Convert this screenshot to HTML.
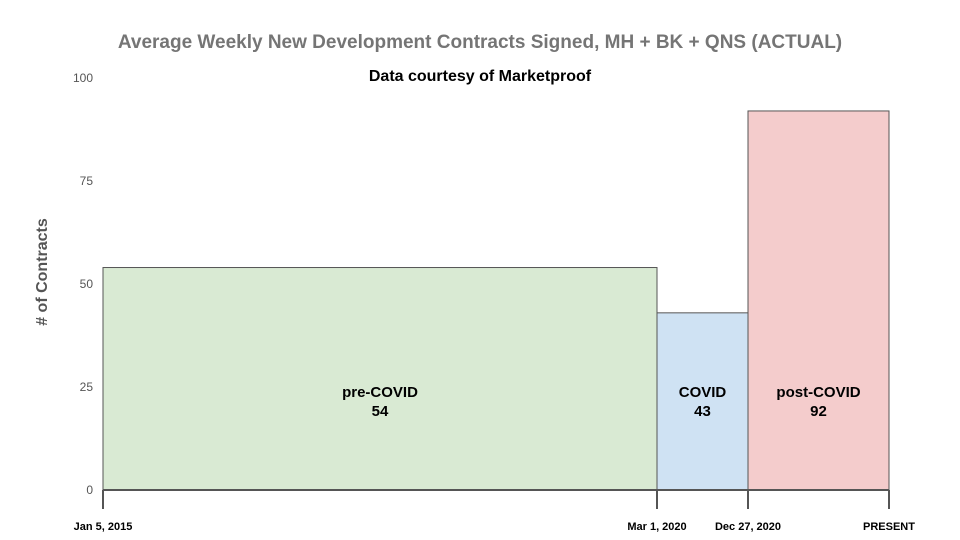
<!DOCTYPE html>
<html><head><meta charset="utf-8"><style>
body{margin:0;background:#fff;}
svg{display:block;font-family:"Liberation Sans",Arial,sans-serif;}
</style></head><body>
<svg id="chart" width="960" height="540" viewBox="0 0 960 540">
<text x="480" y="48" text-anchor="middle" font-size="19" font-weight="bold" fill="#757575">Average Weekly New Development Contracts Signed, MH + BK + QNS (ACTUAL)</text>
<text x="480" y="81" text-anchor="middle" font-size="16" font-weight="bold" fill="#000">Data courtesy of Marketproof</text>
<text transform="translate(47,272) rotate(-90)" text-anchor="middle" font-size="16" font-weight="bold" fill="#555"># of Contracts</text>
<g id="yticks"></g>
<g id="bars"></g>
<g id="xaxis"></g>
</svg>
<script>
const categories=["pre-COVID","COVID","post-COVID"];
const values=[54,43,92];
const yTicks=[0,25,50,75,100];
const xTickLabels=["Jan 5, 2015","Mar 1, 2020","Dec 27, 2020","PRESENT"];
const xBoundaries=[0,1,2,3]; // index of period boundaries
const colors=["#d9ead3","#cfe2f3","#f4cccc"];
const NS="http://www.w3.org/2000/svg";
const y0=490, pxPerUnit=4.12;
function yScale(v){return y0-v*pxPerUnit;}
const bx=[103,657,748,889];
function xScale(i){return bx[i];}
function mk(tag,attrs,parent){const e=document.createElementNS(NS,tag);for(const k in attrs)e.setAttribute(k,attrs[k]);parent.appendChild(e);return e;}
const yg=document.getElementById('yticks');
yTicks.forEach(t=>{
  const el=mk('text',{x:93,y:yScale(t)+4,'text-anchor':'end','font-size':12,fill:'#555'},yg);
  
  
  el.textContent=t;
});
const bg=document.getElementById('bars');
categories.forEach((c,i)=>{
  const x1=xScale(i),x2=xScale(i+1),yt=yScale(values[i]);
  const r=mk('rect',{x:x1,y:yt,width:x2-x1,height:y0-yt,fill:colors[i],stroke:'#555','stroke-width':1},bg);
  
  
  const cx=(x1+x2)/2;
  const l1=mk('text',{x:cx,y:397,'text-anchor':'middle','font-size':15,'font-weight':'bold',fill:'#000'},bg);
  
  
  l1.textContent=c;
  const l2=mk('text',{x:cx,y:416,'text-anchor':'middle','font-size':15,'font-weight':'bold',fill:'#000'},bg);
  
  
  l2.textContent=values[i];
});
const xg=document.getElementById('xaxis');
const ax=mk('line',{x1:xScale(0),x2:xScale(3),y1:y0,y2:y0,stroke:'#555','stroke-width':2},xg);


xBoundaries.forEach((b,i)=>{
  const x=xScale(b);
  const t=mk('line',{x1:x,x2:x,y1:y0,y2:509,stroke:'#555','stroke-width':2},xg);
  
  
  const l=mk('text',{x:x,y:530,'text-anchor':'middle','font-size':11,'font-weight':'bold',fill:'#000'},xg);
  
  
  l.textContent=xTickLabels[i];
});
</script>
</body></html>
